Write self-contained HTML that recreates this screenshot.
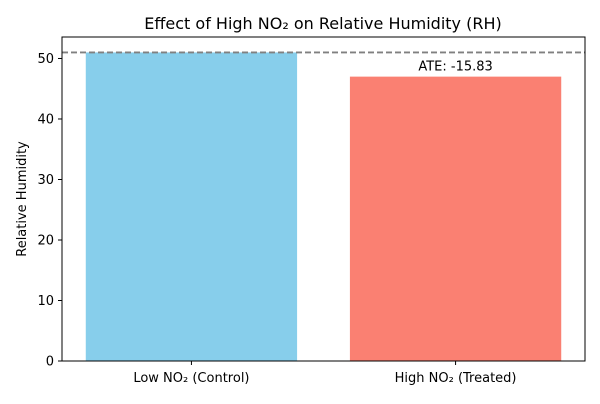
<!DOCTYPE html>
<html><head><meta charset="utf-8"><style>
body{margin:0;background:#fff;font-family:"DejaVu Sans","Liberation Sans",sans-serif;}
</style></head><body>
<svg id="chart" width="600" height="400" xmlns="http://www.w3.org/2000/svg" font-family="DejaVu Sans, Liberation Sans, sans-serif">
<text x="323" y="29" font-size="16" text-anchor="middle" fill="#000">Effect of High NO₂ on Relative Humidity (RH)</text>
<text transform="translate(26,199) rotate(-90)" font-size="13" text-anchor="middle">Relative Humidity</text>
<g id="plot"></g>
</svg>
<script>
const categories = ["Low NO₂ (Control)", "High NO₂ (Treated)"];
const values = [51.0, 47.0];
const colors = ["#87ceeb", "#fa8072"];
const yTicks = [0, 10, 20, 30, 40, 50];
const refLine = [51.0];
const annotation = ["ATE: -15.83"];

const L=62,R=585,T=37,B=361,yMax=53.55;
const y=v=>B-(v/yMax)*(B-T);
const x0=-0.49,x1=1.49;
const xs=(R-L)/(x1-x0);
const x=i=>L+(i-x0)*xs;
const g=document.getElementById('plot');
const NS="http://www.w3.org/2000/svg";
function mk(t,a){const e=document.createElementNS(NS,t);for(const k in a)e.setAttribute(k,a[k]);g.appendChild(e);return e;}
values.forEach((v,i)=>{
 const r=mk('rect',{x:x(i)-0.4*xs,y:y(v),width:0.8*xs,height:B-y(v),fill:colors[i]});
 
 
 const tk=mk('line',{x1:x(i),x2:x(i),y1:B,y2:B+4,stroke:'#000'});
 
 
 const lb=mk('text',{x:x(i),y:B+21,'font-size':13,'text-anchor':'middle'});
 lb.textContent=categories[i];
 
 
});
yTicks.forEach(t=>{
 const tk=mk('line',{x1:L-4,x2:L,y1:y(t),y2:y(t),stroke:'#000'});
 
 
 const lb=mk('text',{x:L-8,y:y(t)+4.5,'font-size':13,'text-anchor':'end'});
 lb.textContent=t;
 
 
});
const dl=mk('line',{x1:L,x2:R,y1:y(refLine[0]),y2:y(refLine[0]),stroke:'#808080','stroke-width':1.8,'stroke-dasharray':'6,3'});


const at=mk('text',{x:x(1),y:y(values[1])-6,'font-size':13,'text-anchor':'middle'});
at.textContent=annotation[0];


const fr=mk('rect',{x:L,y:T,width:R-L,height:B-T,fill:'none',stroke:'#000','stroke-width':1});


</script>
</body></html>
